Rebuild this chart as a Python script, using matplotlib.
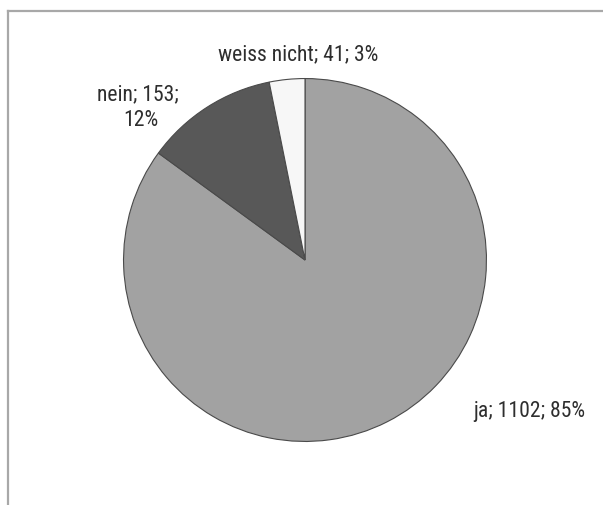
import matplotlib
matplotlib.use("Agg")
import matplotlib.pyplot as plt
from matplotlib.lines import Line2D

categories = ["ja", "nein", "weiss nicht"]
values = [1102, 153, 41]
percents = [85, 12, 3]
colors = ["#a2a2a2", "#585858", "#f7f7f7"]

W, H = 603, 506
fig = plt.figure(figsize=(W / 100, H / 100), dpi=100)
fig.patch.set_facecolor("white")

cx, cy, r = 305, 261, 182
ax = fig.add_axes([(cx - r) / W, (H - cy - r) / H, 2 * r / W, 2 * r / H])
ax.pie(values, colors=colors, startangle=90, counterclock=False,
       wedgeprops=dict(edgecolor="#4a4a4a", linewidth=0.8))
ax.set_xlim(-1.003, 1.003)
ax.set_ylim(-1.003, 1.003)
ax.axis("off")

font = ["Roboto Condensed", "Liberation Sans", "DejaVu Sans"]
tcol = "#2e2e2e"
fs = 15.6

labels = [f"{c}; {v}; {p}%" for c, v, p in zip(categories, values, percents)]

def px(x, y):
    return x / W, 1 - y / H

fig.text(*px(529.5, 417), labels[0], ha="center", va="baseline",
         fontsize=fs, family=font, color=tcol)
fig.text(*px(138, 100), f"{categories[1]}; {values[1]};",
         ha="center", va="baseline", fontsize=fs, family=font, color=tcol)
fig.text(*px(141, 126), f"{percents[1]}%",
         ha="center", va="baseline", fontsize=fs, family=font, color=tcol)
fig.text(*px(298, 60), labels[2], ha="center", va="baseline",
         fontsize=fs, family=font, color=tcol)

# scanned frame: left and top border
fig.add_artist(Line2D([8 / W, 8 / W], [0, 1 - 12 / H], transform=fig.transFigure,
                      color="#a8a8a8", linewidth=1.6))
fig.add_artist(Line2D([8 / W, 1], [1 - 12 / H, 1 - 12 / H], transform=fig.transFigure,
                      color="#a8a8a8", linewidth=1.6))

fig.savefig("out.png", dpi=100, facecolor="white")
